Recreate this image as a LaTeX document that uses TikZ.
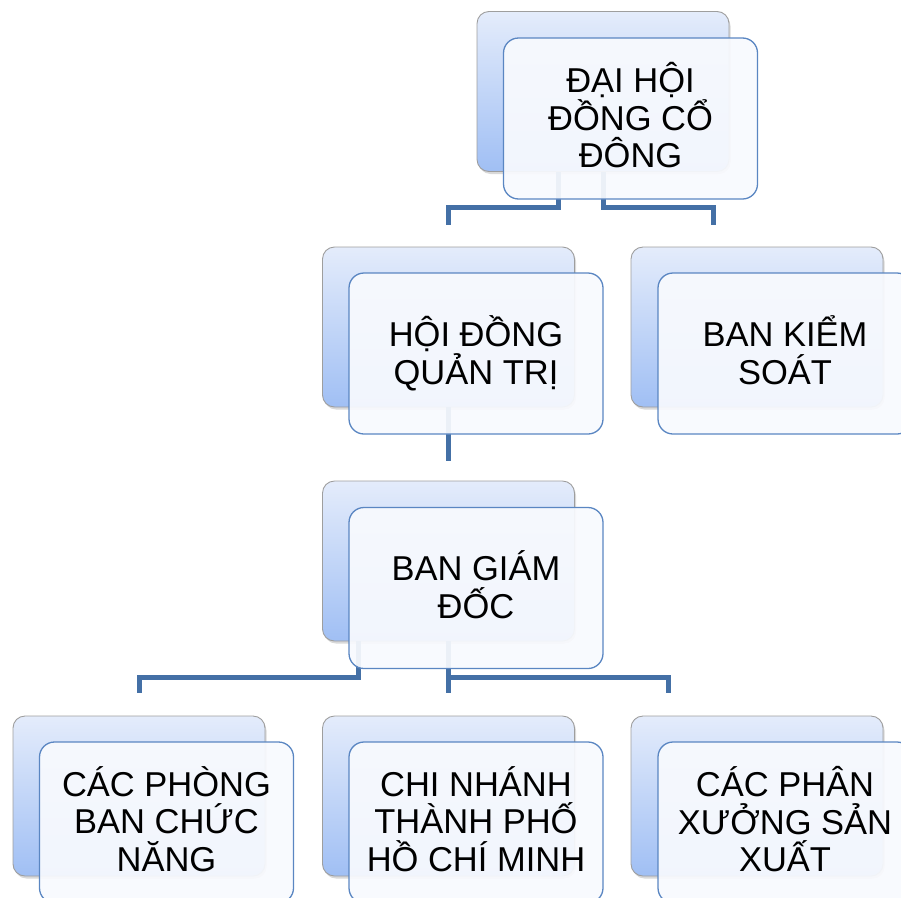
\documentclass[tikz,border=0pt]{standalone}
\usepackage{fontspec}
\setmainfont{Liberation Sans}
\usetikzlibrary{shadows}
\definecolor{linkblue}{HTML}{4470A6}
\definecolor{frameblue}{HTML}{5A86C2}
\definecolor{backtop}{HTML}{E4ECFB}
\definecolor{backbot}{HTML}{A0BFF4}
\definecolor{frontfill}{HTML}{F8FAFE}

\begin{document}
\begin{tikzpicture}[x=1pt,y=-1pt,
  back/.style={draw=black!38,line width=0.9pt,rounded corners=12pt,minimum width=252pt,minimum height=160pt,top color=backtop,bottom color=backbot,drop shadow={shadow xshift=1.5pt,shadow yshift=-2.5pt,opacity=0.3}},
  front/.style={draw=frameblue,line width=1.3pt,rounded corners=15pt,minimum width=254pt,minimum height=161pt,fill=frontfill,fill opacity=0.93,text opacity=1,align=center,font=\fontsize{34.5}{37.5}\selectfont,execute at end node={\rule[-7pt]{0pt}{0pt}}},
  link/.style={draw=linkblue,line width=5pt},
]
  \useasboundingbox (0,0) rectangle (901,897);
  \clip (0,0) rectangle (901,897);

  \node[back] (dhcdB) at (603,91.5) {};
  \node[back] (hdqtB) at (448.5,327) {};
  \node[back] (bksB) at (757,327) {};
  \node[back] (bgdB) at (448.5,561) {};
  \node[back] (cpbB) at (139,796) {};
  \node[back] (cnB) at (448.5,796) {};
  \node[back] (cpxB) at (757,796) {};

  % connectors
  \draw[link,shorten >=22pt] ([xshift=-45pt]dhcdB.south) -- ++(0,36) -| (hdqtB.north);
  \draw[link,shorten >=22pt] (dhcdB.south) -- ++(0,36) -| ([xshift=-44pt]bksB.north);
  \draw[link,shorten >=20pt] (hdqtB.south) -- (bgdB.north);
  \draw[link,shorten >=23pt] ([xshift=-90pt]bgdB.south) -- ++(0,36) -| (cpbB.north);
  \draw[link,shorten >=23pt] (bgdB.south) -- (cnB.north);
  \draw[link,shorten >=23pt] (bgdB.south) -- ++(0,36) -| ([xshift=-89pt]cpxB.north);

  \node[front] (dhcd) at ([shift={(27.5,27)}]dhcdB.center) {ĐẠI HỘI\\ĐỒNG CỔ\\ĐÔNG};
  \node[front] (hdqt) at ([shift={(27.5,26.5)}]hdqtB.center) {HỘI ĐỒNG\\QUẢN TRỊ};
  \node[front] (bks) at ([shift={(28,26.5)}]bksB.center) {BAN KIỂM\\SOÁT};
  \node[front] (bgd) at ([shift={(27.5,27)}]bgdB.center) {BAN GIÁM\\ĐỐC};
  \node[front] (cpb) at ([shift={(27.5,26.5)}]cpbB.center) {CÁC PHÒNG\\BAN CHỨC\\NĂNG};
  \node[front] (cn) at ([shift={(27.5,26.5)}]cnB.center) {CHI NHÁNH\\THÀNH PHỐ\\HỒ CHÍ MINH};
  \node[front] (cpx) at ([shift={(28,26.5)}]cpxB.center) {CÁC PHÂN\\XƯỞNG SẢN\\XUẤT};
\end{tikzpicture}
\end{document}
